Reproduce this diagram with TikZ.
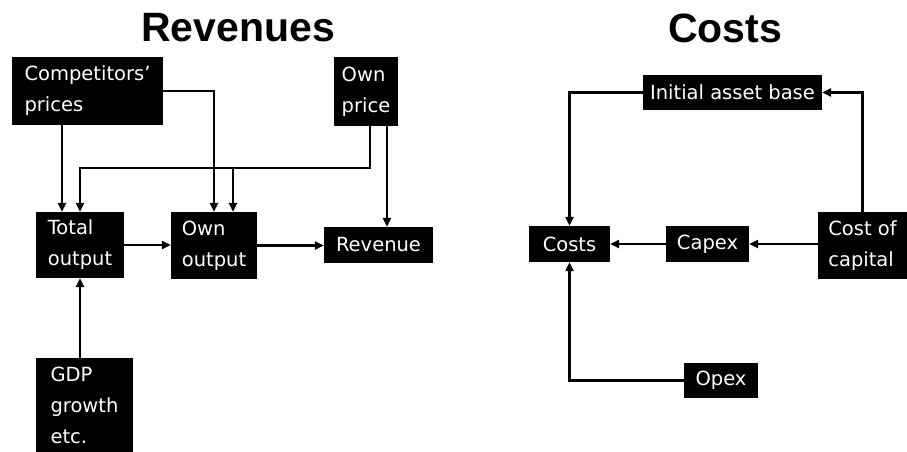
\documentclass[tikz,border=0pt]{standalone}
\usepackage{fontspec}
\setmainfont{DejaVu Sans}
\newfontfamily\titlefont{Liberation Sans}
\usetikzlibrary{arrows.meta,calc}
\begin{document}
\begin{tikzpicture}[x=1pt,y=-1pt,
  bx/.style={fill=black,text=white,inner sep=0pt,align=left,
    font=\fontsize{19.5}{31}\selectfont},
  ttl/.style={font=\titlefont\bfseries\fontsize{41}{45}\selectfont},
  arr/.style={line width=2.2pt,-{Triangle[length=9pt,width=8pt]}}]
\useasboundingbox[fill=white] (0,0) rectangle (907,452);
% titles
\node[ttl] (trev) at (238,28) {Revenues};
\node[ttl] (tcost) at (725,28) {Costs};
% revenue boxes
\node[bx,minimum width=151,minimum height=68] (comp) at (87.5,91) {Competitors'\\prices};
\node[bx,minimum width=64,minimum height=69] (ownp) at (366,91.5) {Own\\price};
\node[bx,minimum width=88,minimum height=66] (tot) at (80,245) {Total\\output};
\node[bx,minimum width=86,minimum height=67] (owno) at (214,245.5) {Own\\output};
\node[bx,minimum width=109,minimum height=36] (rev) at (378.5,245) {Revenue};
\node[bx,minimum width=97,minimum height=94] (gdp) at (84.5,405) {GDP\\growth\\etc.};
% cost boxes
\node[bx,minimum width=179,minimum height=35] (iab) at (732.5,92.5) {Initial asset base};
\node[bx,minimum width=81,minimum height=36] (costs) at (569.5,244) {Costs};
\node[bx,minimum width=83,minimum height=36] (capex) at (707.5,244) {Capex};
\node[bx,minimum width=89,minimum height=67] (coc) at (862.5,245.5) {Cost of\\capital};
\node[bx,minimum width=74,minimum height=35] (opex) at (721,380.5) {Opex};
% revenue connectors
\coordinate (t1) at ([xshift=-18pt]tot.north);
\draw[arr] (comp.south -| t1) -- (t1);
\draw[arr] (comp.east) -| (owno.north);
\coordinate (p1) at ([xshift=4pt]ownp.south);
\coordinate (jn) at (233,168);
\draw[arr] (p1) |- (tot.north |- jn) -- (tot.north);
\draw[arr] (jn) -- (jn |- owno.north);
\coordinate (p2) at ([xshift=21pt]ownp.south);
\draw[arr] (p2) -- (p2 |- rev.north);
\draw[arr] (tot.east) -- (tot.east -| owno.west);
\draw[arr] (owno.east) -- (owno.east -| rev.west);
\draw[arr] (tot.south |- gdp.north) -- (tot.south);
% cost connectors
\draw[arr] (iab.west) -| (costs.north);
\draw[arr] (coc.north) |- (iab.east);
\draw[arr] (coc.west |- capex.east) -- (capex.east);
\draw[arr] (capex.west) -- (costs.east);
\draw[arr] (opex.west) -| (costs.south);
\end{tikzpicture}
\end{document}
